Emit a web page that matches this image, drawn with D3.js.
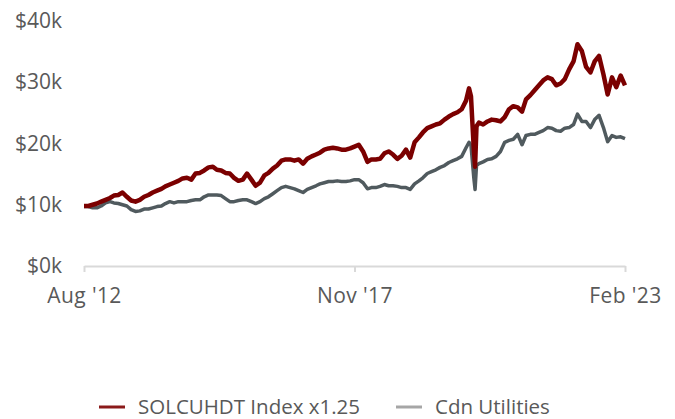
<!DOCTYPE html>
<html>
<head>
<meta charset="utf-8">
<script src="https://cdn.jsdelivr.net/npm/d3@7"></script>
<style>
  body { margin: 0; background: #fff; }
  text { font-family: "Open Sans", "Noto Sans", sans-serif; fill: #595959; }
</style>
</head>
<body>
<div id="chart"></div>
<script>
var svgWidth = 675;
var svgHeight = 419;

// monthly readings, extra points around the Mar 2020 drop
var dates = [
  "2012-08-01","2012-09-01","2012-10-01","2012-11-01","2012-12-01","2013-01-01","2013-02-01","2013-03-01","2013-04-01","2013-05-01",
  "2013-06-01","2013-07-01","2013-08-01","2013-09-01","2013-10-01","2013-11-01","2013-12-01","2014-01-01","2014-02-01","2014-03-01",
  "2014-04-01","2014-05-01","2014-06-01","2014-07-01","2014-08-01","2014-09-01","2014-10-01","2014-11-01","2014-12-01","2015-01-01",
  "2015-02-01","2015-03-01","2015-04-01","2015-05-01","2015-06-01","2015-07-01","2015-08-01","2015-09-01","2015-10-01","2015-11-01",
  "2015-12-01","2016-01-01","2016-02-01","2016-03-01","2016-04-01","2016-05-01","2016-06-01","2016-07-01","2016-08-01","2016-09-01",
  "2016-10-01","2016-11-01","2016-12-01","2017-01-01","2017-02-01","2017-03-01","2017-04-01","2017-05-01","2017-06-01","2017-07-01",
  "2017-08-01","2017-09-01","2017-10-01","2017-11-01","2017-12-01","2018-01-01","2018-02-01","2018-03-01","2018-04-01","2018-05-01",
  "2018-06-01","2018-07-01","2018-08-01","2018-09-01","2018-10-01","2018-11-01","2018-12-01","2019-01-01","2019-02-01","2019-03-01",
  "2019-04-01","2019-05-01","2019-06-01","2019-07-01","2019-08-01","2019-09-01","2019-10-01","2019-11-01","2019-12-01",
  "2020-01-01","2020-01-22","2020-02-05","2020-02-25","2020-03-05","2020-03-15","2020-04-01",
  "2020-05-01","2020-06-01","2020-07-01","2020-08-01","2020-09-01","2020-10-01","2020-11-01","2020-12-01","2021-01-01","2021-02-01",
  "2021-03-01","2021-04-01","2021-05-01","2021-06-01","2021-07-01","2021-08-01","2021-09-01","2021-10-01","2021-11-01","2021-12-01",
  "2022-01-01","2022-02-01","2022-03-01","2022-04-01","2022-05-01","2022-06-01","2022-07-01","2022-08-01","2022-09-01","2022-10-01",
  "2022-11-01","2022-12-01","2023-01-01","2023-02-01"
];

var solcuhdt = [
  9.8,9.8,10.0,10.2,10.5,10.8,11.1,11.5,11.6,12.0,
  11.3,10.7,10.5,10.8,11.3,11.6,12.0,12.3,12.6,13.0,
  13.3,13.6,13.9,14.3,14.4,14.1,15.1,15.2,15.6,16.1,
  16.2,15.7,15.6,15.2,15.1,14.4,13.9,14.1,15.1,14.1,
  13.1,13.6,14.8,15.2,15.9,16.4,17.2,17.4,17.4,17.2,
  17.4,16.7,17.5,17.9,18.2,18.5,19.0,19.2,19.3,19.2,
  19.0,19.0,19.2,19.5,19.8,18.7,17.0,17.4,17.4,17.5,
  18.4,18.7,18.2,17.5,18.0,19.0,17.7,20.2,21.0,21.8,
  22.5,22.8,23.1,23.3,23.9,24.4,24.8,25.1,25.6,
  27.0,29.0,27.7,19.0,16.2,22.8,23.4,
  23.1,23.6,23.9,23.8,23.6,24.3,25.6,26.1,25.9,25.2,
  27.2,27.9,28.7,29.5,30.3,30.8,30.5,29.5,29.8,30.5,
  32.1,33.4,36.2,35.1,32.5,31.6,33.4,34.3,31.3,28.0,
  30.8,29.2,31.1,29.5
];

var cdnUtilities = [
  9.7,9.7,9.5,9.5,9.8,10.3,10.5,10.3,10.2,10.0,
  9.8,9.2,8.9,9.0,9.3,9.3,9.5,9.7,9.8,10.2,
  10.5,10.3,10.5,10.5,10.5,10.7,10.8,10.8,11.3,11.6,
  11.6,11.6,11.5,11.0,10.5,10.5,10.7,10.8,10.8,10.5,
  10.2,10.5,11.0,11.3,11.8,12.3,12.8,13.0,12.8,12.6,
  12.3,12.0,12.5,12.8,13.1,13.4,13.6,13.8,13.8,13.9,
  13.8,13.8,13.9,14.1,14.1,13.6,12.6,12.8,12.8,13.0,
  13.3,13.1,13.1,13.0,12.8,12.8,12.5,13.4,13.9,14.4,
  15.1,15.4,15.7,16.1,16.4,16.9,17.2,17.5,17.9,
  19.3,20.2,19.7,14.4,12.5,16.4,16.7,
  17.0,17.4,17.5,17.9,18.7,20.2,20.5,20.7,21.5,19.8,
  21.3,21.5,21.5,21.8,22.1,22.6,22.5,22.1,22.0,22.5,
  22.6,23.1,24.8,23.6,23.6,22.6,23.9,24.6,22.6,20.3,
  21.3,21.0,21.1,20.8
];

var yTicks = [0, 10, 20, 30, 40];
var xTickDates = ["2012-08-01", "2017-11-01", "2023-02-01"];
var xTickLabels = ["Aug '12", "Nov '17", "Feb '23"];
var seriesNames = ["SOLCUHDT Index x1.25", "Cdn Utilities"];
var lineColors = ["#7b0000", "#505a5e"];
var legendColors = ["#8b1a1a", "#a6a6a6"];

var parseDate = d3.timeParse("%Y-%m-%d");

var svg = d3.select("#chart").append("svg")
  .attr("width", svgWidth)
  .attr("height", svgHeight);

var xScale = d3.scaleTime()
  .domain([parseDate(dates[0]), parseDate(dates[dates.length - 1])])
  .range([84, 625]);

var yScale = d3.scaleLinear()
  .domain([0, 40])
  .range([266, 21]);

// y labels, no axis line
svg.append("g").selectAll("text")
  .data(yTicks)
  .enter()
  .append("text")
  .attr("x", 62)
  .attr("y", d => yScale(d))
  .attr("dy", "0.34em")
  .attr("text-anchor", "end")
  .style("font-size", "21px")
  .text(d => "$" + d + "k");

// x axis
var xAxis = d3.axisBottom(xScale)
  .tickValues(xTickDates.map(parseDate))
  .tickSize(6)
  .tickSizeOuter(0)
  .tickPadding(16)
  .tickFormat((d, i) => xTickLabels[i]);

var xg = svg.append("g")
  .attr("transform", "translate(0,266)")
  .call(xAxis);
xg.select(".domain").attr("stroke", "#d9d9d9").attr("stroke-width", 2);
xg.selectAll(".tick line").attr("stroke", "#d9d9d9").attr("stroke-width", 2);
xg.selectAll(".tick text")
  .style("font-size", "21px")
  .style("font-family", "'Open Sans', sans-serif")
  .style("letter-spacing", "0.4px")
  .attr("fill", "#595959");

var series = [solcuhdt, cdnUtilities];
var line = d3.line()
  .x((d, i) => xScale(parseDate(dates[i])))
  .y(d => yScale(d));

// gray first so red sits on top
[1, 0].forEach(function(k) {
  svg.append("path")
    .datum(series[k])
    .attr("fill", "none")
    .attr("stroke", lineColors[k])
    .attr("stroke-width", k == 0 ? 4.5 : 3.5)
    .attr("stroke-linejoin", "round")
    .attr("d", line);
});

// legend
var legendX = [99, 396];
var legend = svg.append("g").attr("transform", "translate(0,407)");
seriesNames.forEach(function(name, i) {
  legend.append("line")
    .attr("x1", legendX[i]).attr("x2", legendX[i] + 26)
    .attr("y1", 0).attr("y2", 0)
    .attr("stroke", legendColors[i])
    .attr("stroke-width", 3);
  legend.append("text")
    .attr("x", legendX[i] + 39)
    .attr("y", 0)
    .attr("dy", "0.35em")
    .style("font-size", "20.5px")
    .text(name);
});
</script>
</body>
</html>
